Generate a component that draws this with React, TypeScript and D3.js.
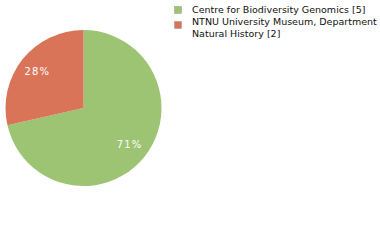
import * as d3 from 'd3';

const labels = ['Centre for Biodiversity Genomics [5]', 'NTNU University Museum, Department Natural History [2]'];
const legendLines = [['Centre for Biodiversity Genomics [5]'], ['NTNU University Museum, Department', 'Natural History [2]']];
const values = [5, 2];
const colors = ['#9cc472', '#d97459'];

export default function App() {
  const width = 380;
  const height = 240;
  const cx = 83.5;
  const cy = 108;
  const radius = 78;

  const total = d3.sum(values);
  const pie = d3.pie<number>().sort(null).value((d) => d);
  const arcs = pie(values);
  const arc = d3.arc<d3.PieArcDatum<number>>().innerRadius(0).outerRadius(radius);
  const labelArc = d3.arc<d3.PieArcDatum<number>>().innerRadius(59).outerRadius(59);

  return (
    <svg
      width={width}
      height={height}
      style={{ position: 'absolute', left: 0, top: 0, background: '#fff' }}
      fontFamily="DejaVu Sans"
    >
      <g transform={`translate(${cx},${cy})`}>
        {arcs.map((a, i) => (
          <path key={labels[i]} d={arc(a) || ''} fill={colors[i]} />
        ))}
        {arcs.map((a, i) => {
          const [x, y] = labelArc.centroid(a);
          return (
            <text
              key={'l' + i}
              x={x}
              y={y}
              dy="0.35em"
              textAnchor="middle"
              fill="#fff"
              fontSize={10}
              letterSpacing={1.2}
            >
              {Math.floor((a.value / total) * 100) + '%'}
            </text>
          );
        })}
      </g>
      <g>
        {legendLines.map((lines, i) => {
          const y0 = i === 0 ? 13 : 25;
          return (
            <g key={'g' + i}>
              <rect
                x={174.5}
                y={(i === 0 ? 6 : 21) + 0.5}
                width={7}
                height={7}
                fill={colors[i]}
                stroke="#999"
                strokeWidth={0.5}
              />
              {lines.map((t, j) => (
                <text key={t} x={192} y={y0 + j * 12} fontSize={9.5} fill="#111">
                  {t}
                </text>
              ))}
            </g>
          );
        })}
      </g>
    </svg>
  );
}
